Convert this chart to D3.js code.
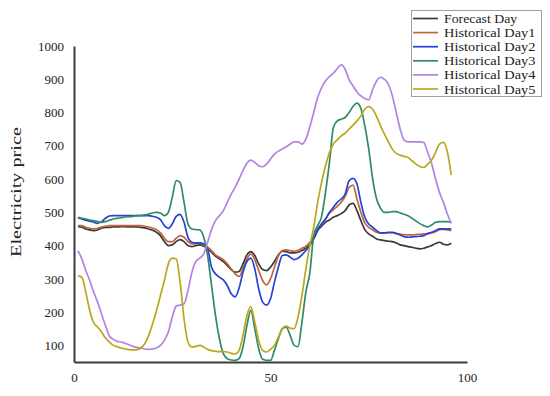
<!DOCTYPE html>
<html><head><meta charset="utf-8">
<script src="https://cdn.jsdelivr.net/npm/d3@7"></script>
<style>body{margin:0;background:#fff;}svg{display:block;}</style>
</head><body><svg id="c" width="550" height="396"></svg>
<script>
const xTicks = [0, 50, 100];
const yTicks = [100, 200, 300, 400, 500, 600, 700, 800, 900, 1000];
const seriesNames = ["Forecast Day","Historical Day1","Historical Day2","Historical Day3","Historical Day4","Historical Day5"];
const seriesColors = ["#3a3a3a","#c4643e","#2443d6","#2f8a68","#b283e0","#bba71c"];
const forecast = [457,455,450,447,445,447,452,455,455,456,456,457,457,456,456,456,455,453,450,446,440,430,412,400,402,412,418,412,400,397,400,402,398,392,380,368,360,352,340,328,320,322,345,372,382,370,345,328,325,335,352,372,383,382,378,378,380,385,392,402,420,445,458,470,477,485,490,496,505,522,527,505,475,448,435,428,420,417,415,413,412,408,402,400,397,395,392,390,392,396,400,406,410,404,402,407];
const day1 = [460,460,455,452,450,452,456,458,460,460,460,460,460,460,460,460,460,458,456,452,448,438,422,412,412,422,430,425,412,405,406,408,402,395,385,372,365,358,345,330,315,307,330,360,375,358,325,295,282,300,335,368,385,387,385,383,386,392,398,410,428,450,465,480,497,508,518,530,548,575,582,540,500,468,455,447,440,437,438,438,438,436,434,433,432,432,433,434,435,436,438,442,448,449,447,445];
const day2 = [483,480,476,473,470,467,472,482,489,490,490,490,490,490,490,490,490,490,490,488,485,478,460,452,465,488,494,470,425,410,408,408,405,390,335,315,305,297,280,255,246,272,320,352,362,330,270,230,221,240,290,335,370,372,365,358,362,372,385,400,425,448,465,480,500,515,530,540,555,595,602,585,530,485,465,455,445,438,438,440,440,437,432,427,425,426,427,428,430,436,440,445,450,450,450,450];
const day3 = [485,482,480,477,475,472,470,472,476,480,482,484,486,487,488,490,490,492,495,498,500,498,490,500,545,595,590,530,465,450,448,447,425,370,280,190,120,75,60,56,55,60,95,160,205,150,90,58,55,55,85,120,150,155,130,100,96,170,260,317,430,460,487,560,650,755,775,780,785,800,818,828,812,760,690,600,540,512,500,500,502,502,498,494,490,482,474,466,460,456,462,470,472,472,472,470];
const day4 = [385,360,325,295,260,230,195,160,128,118,112,110,106,102,97,94,92,89,88,89,92,100,115,140,185,218,221,225,265,320,352,362,375,410,448,475,490,505,530,555,575,600,625,648,657,650,640,637,645,660,675,684,690,697,705,712,712,705,720,757,800,845,875,895,908,918,932,943,930,898,880,862,850,842,838,870,895,906,900,885,850,800,750,717,712,712,712,712,710,680,647,600,560,530,495,467];
const day5 = [309,305,260,205,168,155,140,122,110,100,96,92,89,87,86,87,92,105,130,165,205,250,295,345,362,360,290,180,110,95,97,100,95,88,84,82,81,81,80,76,74,85,130,190,216,170,115,85,80,88,100,125,150,158,152,150,185,250,330,400,455,530,590,640,680,705,718,730,738,750,762,775,790,810,818,810,788,760,735,712,690,677,672,668,665,655,645,638,635,645,657,680,705,710,682,612];

const allSeries = [forecast, day1, day2, day3, day4, day5];
const svg = d3.select("#c");
const x = d3.scaleLinear().domain([0, 100]).range([74, 467]);
const y = d3.scaleLinear().domain([50, 1000]).range([362, 46]);
const font = "'Liberation Serif', 'DejaVu Serif', serif";

// lines
const line = d3.line().x((d, i) => x(i + 1)).y(d => y(d)).curve(d3.curveMonotoneX);
allSeries.forEach((s, k) => {
  svg.append("path").datum(s).attr("d", line).attr("fill", "none")
    .attr("stroke", seriesColors[k]).attr("stroke-width", 1.7).attr("stroke-linejoin", "round");
});

// axes
const yAxis = svg.append("g").attr("transform", "translate(74,0)")
  .call(d3.axisLeft(y).tickValues(yTicks).tickSize(0).tickPadding(10).tickFormat(d3.format("d")));
const xAxis = svg.append("g").attr("transform", "translate(0,362)")
  .call(d3.axisBottom(x).tickValues(xTicks).tickSize(0).tickPadding(11).tickFormat(d3.format("d")));
[yAxis, xAxis].forEach(g => {
  g.select(".domain").attr("stroke", "#3c3c3c").attr("stroke-width", 2);
  g.selectAll("text").attr("font-family", font).attr("font-size", 13).attr("fill", "#222");
});

// y label
svg.append("text").attr("transform", "translate(21,192) rotate(-90)")
  .attr("text-anchor", "middle").attr("font-family", font).attr("font-size", 15)
  .attr("fill", "#222").attr("textLength", 130).attr("lengthAdjust", "spacingAndGlyphs")
  .text("Electricity price");

// legend
const lg = svg.append("g");
lg.append("rect").attr("x", 411.5).attr("y", 10.5).attr("width", 130).attr("height", 86)
  .attr("fill", "#fff").attr("stroke", "#a0a0a0").attr("stroke-width", 1);
seriesNames.forEach((n, k) => {
  const yy = 18.5 + k * 14.1;
  lg.append("line").attr("x1", 413).attr("x2", 438).attr("y1", yy).attr("y2", yy)
    .attr("stroke", seriesColors[k]).attr("stroke-width", 1.7);
  lg.append("text").attr("x", 444).attr("y", yy + 4.5).attr("font-family", font)
    .attr("font-size", 13).attr("fill", "#222")
    .attr("textLength", n.length * 6.1).attr("lengthAdjust", "spacingAndGlyphs").text(n);
});
</script></body></html>
